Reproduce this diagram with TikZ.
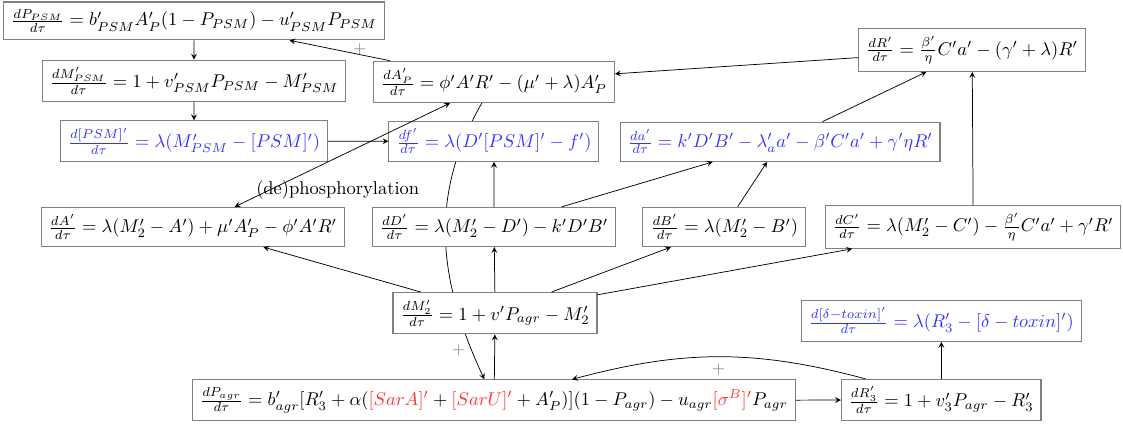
\documentclass[tikz,border=0pt]{standalone}
\usepackage{tikz}
\usetikzlibrary{arrows.meta, positioning, calc, backgrounds}

\begin{document}
\begin{tikzpicture}[
    scale=1.045,
    eq/.style={rectangle, draw=black!50, fill=white, semithick, inner sep=4pt},
    eqblue/.style={eq, text=blue!80},
    plus/.style={text=black!50, font=\small},
    >=stealth
]
    \useasboundingbox (0,0) rectangle (20.44,-7.70);

    % Nœuds du haut (PSM)
    \node[eq] (ppsm) at (3.53,-0.38) {$\frac{dP_{PSM}}{d\tau} = b'_{PSM}A'_P(1-P_{PSM}) - u'_{PSM}P_{PSM}$};
    \node[eq] (mpsm) at (3.53,-1.47) {$\frac{dM'_{PSM}}{d\tau} = 1 + v'_{PSM}P_{PSM} - M'_{PSM}$};
    \node[eqblue] (psm) at (3.53,-2.57) {$\frac{d[PSM]'}{d\tau} = \lambda(M'_{PSM} - [PSM]')$};
    \node[eq] (ap) at (8.99,-1.49) {$\frac{dA'_P}{d\tau} = \phi' A'R' - (\mu'+\lambda)A'_P$};
    \node[eqblue] (f) at (8.99,-2.57) {$\frac{df'}{d\tau} = \lambda(D'[PSM]' - f')$};
    \node[eqblue] (a) at (14.20,-2.58) {$\frac{da'}{d\tau} = k'D'B' - \lambda'_a a' - \beta' C'a' + \gamma'\eta R'$};
    \node[eq] (r) at (17.69,-0.91) {$\frac{dR'}{d\tau} = \frac{\beta'}{\eta}C'a' - (\gamma'+\lambda)R'$};

    % Rangée du milieu
    \node[eq] (aa) at (3.51,-4.13) {$\frac{dA'}{d\tau} = \lambda(M'_2 - A') + \mu' A'_P - \phi' A'R'$};
    \node[eq] (d) at (8.99,-4.13) {$\frac{dD'}{d\tau} = \lambda(M'_2 - D') - k'D'B'$};
    \node[eq] (b) at (13.18,-4.13) {$\frac{dB'}{d\tau} = \lambda(M'_2 - B')$};
    \node[eq] (c) at (17.71,-4.13) {$\frac{dC'}{d\tau} = \lambda(M'_2 - C') - \frac{\beta'}{\eta}C'a' + \gamma'R'$};

    % Nœuds du bas (agr)
    \node[eq] (m2) at (9.01,-5.70) {$\frac{dM'_2}{d\tau} = 1 + v'P_{agr} - M'_2$};
    \node[eq] (pagr) at (8.99,-7.28) {$\frac{dP_{agr}}{d\tau} = b'_{agr}[R'_3 + \alpha(\textcolor{red!80}{[SarA]'} + \textcolor{red!80}{[SarU]'} + A'_P)](1-P_{agr}) - u_{agr}\textcolor{red!80}{[\sigma^B]'}P_{agr}$};
    \node[eq] (r3) at (17.13,-7.28) {$\frac{dR'_3}{d\tau} = 1 + v'_3P_{agr} - R'_3$};
    \node[eqblue] (tox) at (17.13,-5.84) {$\frac{d[\delta-toxin]'}{d\tau} = \lambda(R'_3 - [\delta-toxin]')$};

    % Chaîne PSM
    \draw[->] (ppsm) -- (mpsm);
    \draw[->] (mpsm) -- (psm);
    \draw[->] (psm) -- (f);

    % A'_P active P_PSM
    \draw[->] (ap) -- node[plus, pos=0.3, yshift=3pt] {$+$} (ppsm);

    % R' -> A'_P
    \draw[->] (r) -- (ap);

    % (dé)phosphorylation A' <-> A'_P
    \draw[<->] (aa) -- node[pos=0.09, anchor=west, yshift=4pt, inner sep=1pt] {(de)phosphorylation} (ap);

    % A'_P active P_agr (derrière les boîtes)
    \begin{pgfonlayer}{background}
        \draw[->] (ap) to[out=-120, in=115] node[plus, pos=0.9, left] {$+$} (pagr);
    \end{pgfonlayer}

    % Vers f', a' et R'
    \draw[->] (d) -- (f);
    \draw[->] (d) -- (a);
    \draw[->] (b) -- (a);
    \draw[->] (a) -- (r);
    \draw[->] (c) -- (r);

    % M'_2 vers les protéines
    \draw[->] (m2) -- (aa);
    \draw[->] (m2) -- (d);
    \draw[->] (m2) -- (b);
    \draw[->] (m2) -- (c);

    % Boucle agr
    \draw[->] (pagr) -- (m2);
    \draw[->] (pagr) -- (r3);
    \draw[->] ([xshift=-1.38cm]r3.north) to[out=165, in=15] node[plus, midway, below] {$+$} ([xshift=1.42cm]pagr.north);
    \draw[->] (r3) -- (tox);

\end{tikzpicture}
\end{document}
